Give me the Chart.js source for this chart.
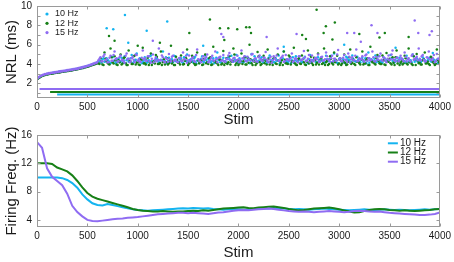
<!DOCTYPE html>
<html><head><meta charset="utf-8">
<script src="https://cdn.jsdelivr.net/npm/chart.js@4"></script>
<style>
html,body{margin:0;padding:0;background:#fff;}
#wrap{position:relative;width:454px;height:262px;overflow:hidden;}
#c1{position:absolute;left:0;top:0;}
#c2{position:absolute;left:0;top:125px;}
</style></head><body>
<div id="wrap"><canvas id="c1" width="454" height="129"></canvas><canvas id="c2" width="454" height="137"></canvas></div>
<script>
const seriesNames = ['10 Hz', '12 Hz', '15 Hz'];
const seriesColors = ['#14b4f0', '#178017', '#8f6cf2'];

// top panel: NRL per stimulus (sampled, two interleaved samplings)
const stims = [
10,30,50,70,90,110,130,150,170,190,210,230,250,270,290,310,330,350,370,390,
410,430,450,470,490,510,530,550,570,590,610,630,650,670,690,710,730,750,770,790,
810,830,850,870,890,910,930,950,970,990,1010,1030,1050,1070,1090,1110,1130,1150,1170,1190,
1210,1230,1250,1270,1290,1310,1330,1350,1370,1390,1410,1430,1450,1470,1490,1510,1530,1550,1570,1590,
1610,1630,1650,1670,1690,1710,1730,1750,1770,1790,1810,1830,1850,1870,1890,1910,1930,1950,1970,1990,
2010,2030,2050,2070,2090,2110,2130,2150,2170,2190,2210,2230,2250,2270,2290,2310,2330,2350,2370,2390,
2410,2430,2450,2470,2490,2510,2530,2550,2570,2590,2610,2630,2650,2670,2690,2710,2730,2750,2770,2790,
2810,2830,2850,2870,2890,2910,2930,2950,2970,2990,3010,3030,3050,3070,3090,3110,3130,3150,3170,3190,
3210,3230,3250,3270,3290,3310,3330,3350,3370,3390,3410,3430,3450,3470,3490,3510,3530,3550,3570,3590,
3610,3630,3650,3670,3690,3710,3730,3750,3770,3790,3810,3830,3850,3870,3890,3910,3930,3950,3970,3990];
const stims2 = [
20,40,60,80,100,120,140,160,180,200,220,240,260,280,300,320,340,360,380,400,
420,440,460,480,500,520,540,560,580,600,620,640,660,680,700,720,740,760,780,800,
820,840,860,880,900,920,940,960,980,1000,1020,1040,1060,1080,1100,1120,1140,1160,1180,1200,
1220,1240,1260,1280,1300,1320,1340,1360,1380,1400,1420,1440,1460,1480,1500,1520,1540,1560,1580,1600,
1620,1640,1660,1680,1700,1720,1740,1760,1780,1800,1820,1840,1860,1880,1900,1920,1940,1960,1980,2000,
2020,2040,2060,2080,2100,2120,2140,2160,2180,2200,2220,2240,2260,2280,2300,2320,2340,2360,2380,2400,
2420,2440,2460,2480,2500,2520,2540,2560,2580,2600,2620,2640,2660,2680,2700,2720,2740,2760,2780,2800,
2820,2840,2860,2880,2900,2920,2940,2960,2980,3000,3020,3040,3060,3080,3100,3120,3140,3160,3180,3200,
3220,3240,3260,3280,3300,3320,3340,3360,3380,3400,3420,3440,3460,3480,3500,3520,3540,3560,3580,3600,
3620,3640,3660,3680,3700,3720,3740,3760,3780,3800,3820,3840,3860,3880,3900,3920,3940,3960,3980,4000];

const nrl10 = [
2.52,2.68,2.8,2.88,2.94,2.98,3.02,3.06,3.09,3.12,3.15,3.19,3.22,3.26,3.29,3.32,3.35,3.39,3.43,3.47,
3.51,3.55,3.6,3.66,3.72,3.78,3.85,3.93,4.0,4.09,
4.2,4.3,4.5,4.25,4.6,4.35,4.1,4.7,4.4,4.2,
4.55,4.3,4.15,4.8,4.4,4.25,4.6,4.1,4.35,5.1,
4.3,4.5,4.2,4.7,4.15,4.4,4.9,4.25,4.35,4.6,
4.2,4.45,5.3,4.3,4.1,4.65,4.35,4.2,4.8,4.4,
4.25,4.6,4.15,4.4,5.0,4.3,4.5,4.2,4.75,4.35,
4.1,4.55,4.3,4.9,4.2,4.45,4.15,4.6,4.3,5.2,
4.4,4.2,4.65,4.3,4.1,4.5,4.85,4.25,4.4,4.15,
4.6,4.3,4.2,4.75,4.4,4.1,5.05,4.35,4.5,4.2,
4.3,4.7,4.15,4.45,4.25,4.9,4.35,4.2,4.6,4.4,
4.1,4.5,5.3,4.3,4.2,4.65,4.4,4.15,4.8,4.3,
4.45,4.2,4.6,4.35,4.1,4.95,4.3,4.5,4.2,4.7,
4.25,4.4,4.15,4.85,4.3,4.55,4.2,5.1,4.4,4.1,
4.6,4.3,4.2,4.75,4.45,4.15,4.9,4.35,4.25,4.5,
4.2,4.65,4.35,4.1,5.2,4.4,4.3,4.55,4.2,4.8,
4.3,4.15,4.6,4.4,4.25,4.95,4.35,4.2,4.7,4.45,
4.1,4.5,4.3,4.85,4.2,4.4,5.0,4.25,4.6,4.35,
4.2,4.7,4.4,4.15,4.55,4.3,5.15,4.25,4.45,4.2];
const nrl10b = [
2.64,2.76,2.86,2.93,2.98,3.02,3.06,3.1,3.13,3.17,3.2,3.24,3.27,3.3,3.34,3.37,3.41,3.45,3.49,3.53,
3.58,3.63,3.68,3.74,3.8,3.87,3.94,4.02,4.1,4.18,
4.35,4.15,4.6,4.3,4.45,4.2,4.75,4.3,4.1,4.5,
4.2,4.65,4.4,4.1,4.55,4.3,4.95,4.2,4.45,4.3,
4.6,4.1,4.35,4.5,4.25,4.8,4.3,4.15,4.55,4.4,
4.15,4.4,4.25,4.7,4.35,4.2,4.5,4.85,4.3,4.2,
4.5,4.2,4.7,4.3,4.15,4.45,4.35,4.6,4.1,4.4,
4.3,4.8,4.2,4.4,4.55,4.25,4.35,4.1,4.65,4.45,
4.2,4.45,4.3,4.15,4.7,4.4,4.25,4.55,4.95,4.3,
4.4,4.15,4.55,4.3,4.6,4.2,4.4,4.8,4.25,4.35,
4.55,4.25,4.4,4.1,4.65,4.3,4.5,4.2,4.35,4.9,
4.25,4.6,4.2,4.45,4.35,4.1,4.7,4.4,4.3,4.55,
4.35,4.2,4.75,4.3,4.5,4.15,4.4,4.6,4.2,4.45,
4.6,4.3,4.2,4.5,4.35,4.85,4.25,4.4,4.15,4.55,
4.3,4.5,4.1,4.65,4.4,4.25,4.55,4.3,4.75,4.2,
4.45,4.25,4.6,4.35,4.15,4.5,4.3,4.9,4.4,4.2,
4.2,4.7,4.35,4.25,4.45,4.6,4.15,4.4,4.3,4.65,
4.5,4.3,4.15,4.55,4.35,4.2,4.8,4.4,4.25,4.5,
4.35,4.55,4.2,4.4,4.65,4.25,4.45,4.3,4.1,4.6];

const nrl12 = [
2.5,2.65,2.78,2.86,2.92,2.96,3.0,3.04,3.07,3.1,3.14,3.17,3.2,3.24,3.27,3.3,3.34,3.37,3.41,3.45,
3.49,3.54,3.59,3.64,3.7,3.76,3.83,3.9,3.98,4.06,
4.1,4.6,3.95,5.2,4.3,4.0,5.6,4.2,4.8,3.95,
4.4,5.0,4.05,4.7,3.9,5.4,4.25,4.0,4.9,4.15,
3.95,4.5,5.7,4.1,4.35,3.9,5.1,4.2,4.05,4.75,
4.0,5.3,4.2,3.95,4.6,4.1,5.9,4.3,3.9,4.45,
4.15,4.9,3.95,4.35,5.5,4.05,4.25,4.7,3.9,5.2,
4.1,4.4,3.95,5.0,4.2,4.6,3.9,5.8,4.3,4.05,
4.5,3.95,5.35,4.15,4.0,4.8,4.25,5.6,3.9,4.4,
4.05,5.1,4.3,3.95,4.65,6.0,4.1,4.35,3.9,5.25,
4.2,4.0,4.85,4.35,5.5,3.95,4.15,4.6,4.05,5.0,
3.9,4.4,5.3,4.1,4.0,4.75,4.25,5.7,3.95,4.5,
4.05,4.9,4.2,3.9,5.4,4.3,4.1,4.65,3.95,5.1,
4.35,4.0,5.6,4.2,3.9,4.8,4.1,5.2,4.4,3.95,
4.55,4.05,5.0,3.9,4.25,5.5,4.15,4.0,4.7,4.3,
3.95,5.3,4.1,4.45,3.9,5.8,4.2,4.05,4.6,4.35,
4.0,4.9,3.95,5.15,4.25,4.1,4.7,3.9,5.4,4.3,
4.15,3.95,4.85,4.05,5.6,4.2,3.9,4.5,5.05,4.1,
3.95,4.4,5.2,4.1,4.0,4.75,4.25,3.9,5.5,4.2];
const nrl12b = [
2.6,2.72,2.82,2.88,2.93,2.97,3.01,3.04,3.08,3.11,3.14,3.18,3.21,3.25,3.28,3.31,3.35,3.39,3.43,3.47,
3.51,3.56,3.61,3.67,3.73,3.8,3.87,3.94,4.02,4.1,
4.0,4.3,3.9,4.55,4.15,3.95,4.7,4.05,4.4,3.9,
4.2,3.95,4.6,4.1,3.9,4.35,4.0,4.8,3.95,4.25,
3.9,4.45,4.05,3.95,4.65,4.15,3.9,4.3,4.95,4.0,
4.1,3.9,4.5,4.2,3.95,4.4,4.05,3.9,4.75,4.15,
3.95,4.35,4.0,4.6,3.9,4.2,4.85,4.05,3.95,4.4,
4.25,3.9,4.55,4.1,4.0,4.7,3.95,4.3,4.15,3.9,
4.45,4.05,3.9,4.6,4.2,3.95,4.35,5.0,4.1,3.9,
4.3,4.0,4.7,3.95,4.15,4.5,3.9,4.25,4.05,4.8,
3.9,4.4,4.1,3.95,4.55,4.2,3.9,4.65,4.0,4.35,
4.15,3.9,4.45,4.05,4.9,3.95,4.3,4.1,3.9,4.6,
4.0,4.5,3.95,4.25,4.05,4.75,3.9,4.4,4.15,3.95,
4.6,4.1,3.9,4.35,4.0,4.55,3.95,4.2,4.85,4.05,
3.9,4.3,4.15,3.95,4.7,4.0,4.45,3.9,4.25,4.1,
4.5,3.95,4.05,4.6,3.9,4.35,4.2,3.95,4.95,4.1,
4.0,4.4,3.9,4.25,4.55,3.95,4.15,4.7,4.05,3.9,
4.3,4.1,4.6,3.95,4.2,4.0,4.8,3.9,4.35,4.15,
3.95,4.5,4.05,4.25,3.9,4.65,4.1,4.0,4.4,3.95];

const nrl15 = [
2.55,2.72,2.83,2.9,2.95,3.0,3.03,3.07,3.1,3.13,3.16,3.2,3.23,3.27,3.3,3.33,3.36,3.4,3.44,3.48,
3.52,3.57,3.62,3.68,3.74,3.8,3.87,3.95,4.03,4.12,
4.4,4.7,4.3,5.0,4.5,4.2,4.85,4.35,5.3,4.6,
4.3,4.9,4.45,4.15,5.1,4.55,4.3,4.75,4.2,4.95,
4.5,4.25,5.4,4.6,4.35,4.8,4.15,5.0,4.45,4.3,
5.6,4.4,4.7,4.2,4.55,5.05,4.3,4.85,4.45,4.25,
4.6,4.35,5.2,4.5,4.15,4.9,4.4,4.7,4.25,5.5,
4.45,4.2,4.8,4.55,5.0,4.3,4.65,4.4,5.3,4.2,
4.7,4.35,4.95,4.25,4.5,5.15,4.4,4.6,4.3,4.85,
4.2,5.4,4.55,4.35,4.75,4.45,5.0,4.3,4.6,4.25,
4.9,4.4,4.65,5.25,4.3,4.5,4.15,4.8,4.45,5.6,
4.35,4.7,4.25,4.95,4.5,4.4,5.1,4.3,4.6,4.2,
4.8,4.45,5.35,4.3,4.55,4.2,4.9,4.4,4.65,5.0,
4.3,4.75,4.4,5.2,4.5,4.25,4.85,4.55,4.35,5.45,
4.6,4.3,4.95,4.45,5.1,4.2,4.7,4.4,5.5,4.35,
4.5,4.8,4.25,5.0,4.6,4.4,5.3,4.3,4.75,4.45,
5.1,4.35,4.6,4.2,4.9,4.5,5.4,4.4,4.65,4.3,
4.85,4.45,5.2,4.3,4.6,4.25,5.0,4.5,4.75,5.6,
4.4,4.95,4.3,4.7,5.3,4.45,4.6,4.2,5.05,4.5];
const nrl15b = [
2.68,2.8,2.9,2.97,3.02,3.07,3.11,3.14,3.18,3.21,3.25,3.28,3.31,3.35,3.38,3.42,3.45,3.49,3.53,3.57,
3.62,3.67,3.72,3.78,3.84,3.91,3.98,4.06,4.14,4.22,
4.55,4.3,4.8,4.4,4.2,4.65,4.35,4.95,4.5,4.25,
4.7,4.4,4.3,4.85,4.5,4.2,4.6,4.45,5.0,4.35,
4.25,4.65,4.5,4.35,4.8,4.3,4.55,4.2,4.7,4.45,
4.4,4.9,4.3,4.6,4.25,4.5,4.75,4.35,4.45,4.2,
4.65,4.3,4.5,4.85,4.4,4.25,4.6,4.35,4.95,4.5,
4.3,4.55,4.4,4.7,4.2,4.45,4.85,4.35,4.5,4.6,
4.75,4.4,4.3,4.55,4.9,4.45,4.25,4.65,4.4,4.5,
4.35,4.6,4.8,4.3,4.5,4.4,5.05,4.55,4.3,4.7,
4.5,4.35,4.65,4.45,4.2,4.75,4.4,4.6,4.9,4.35,
4.6,4.85,4.3,4.5,4.4,4.65,4.25,4.55,4.45,4.8,
4.4,4.55,4.7,4.35,4.95,4.45,4.3,4.6,4.5,4.25,
4.7,4.35,4.5,4.8,4.4,4.6,4.3,4.55,5.0,4.45,
4.35,4.65,4.45,4.25,4.75,4.5,4.4,4.85,4.3,4.6,
4.55,4.4,4.9,4.35,4.6,4.45,4.7,4.3,4.5,4.8,
4.45,4.7,4.35,4.55,4.4,5.0,4.5,4.3,4.65,4.45,
4.6,4.3,4.75,4.5,4.35,4.85,4.45,4.6,4.4,4.55,
4.8,4.45,4.3,4.65,4.5,4.4,4.95,4.35,4.55,4.7];

// sparse high outliers
const out10Stim = [692, 757, 873, 906, 1089, 1293, 1650, 2450, 3050, 3560];
const out10Val  = [7.7, 7.6, 9.07, 6.2, 7.45, 8.4, 5.9, 5.8, 6.0, 5.7];
const out12Stim = [715, 770, 1000, 1220, 1512, 1717, 1816, 1860, 1899, 1988, 2077, 2110, 2125, 2633, 2670, 2776, 2846, 2868, 2933, 2957, 3200, 3400, 3453, 3690];
const out12Val  = [6.9, 6.4, 5.9, 6.2, 7.2, 8.6, 7.7, 6.5, 7.7, 7.6, 7.8, 7.8, 7.2, 7.0, 6.6, 9.6, 7.2, 7.9, 6.55, 8.3, 7.1, 6.75, 7.2, 6.8];
const out15Stim = [1150, 1830, 1850, 2280, 2577, 3080, 3150, 3215, 3321, 3380, 3750, 3785, 3897, 3920];
const out15Val  = [6.4, 7.1, 6.8, 6.8, 7.1, 7.2, 7.2, 6.3, 8.0, 7.2, 8.5, 7.2, 7.0, 7.4];

// failure rows
const failStart = [200, 130, 25];
const failEnd = [4000, 4000, 4000];
const failLevel = [0.86, 1.13, 1.42];

// bottom panel: firing frequency
const lineStims = [
0,50,100,150,200,250,300,350,400,450,500,550,600,650,700,750,800,850,900,950,
1000,1050,1100,1150,1200,1250,1300,1350,1400,1450,1500,1550,1600,1650,1700,1750,1800,1850,1900,1950,
2000,2050,2100,2150,2200,2250,2300,2350,2400,2450,2500,2550,2600,2650,2700,2750,2800,2850,2900,2950,
3000,3050,3100,3150,3200,3250,3300,3350,3400,3450,3500,3550,3600,3650,3700,3750,3800,3850,3900,3950,4000];
const freq10 = [
10,10,10,10,10,9.9,9.65,9.2,8.55,7.6,
6.9,6.35,6.1,6.05,6.25,6.1,5.95,5.8,5.65,5.5,
5.4,5.35,5.3,5.35,5.4,5.45,5.5,5.55,5.6,5.65,
5.6,5.7,5.65,5.6,5.65,5.55,5.5,5.45,5.5,5.55,
5.5,5.45,5.5,5.55,5.6,5.65,5.6,5.7,5.65,5.6,
5.55,5.5,5.55,5.5,5.45,5.5,5.55,5.6,5.55,5.5,
5.45,5.4,5.35,5.4,5.45,5.5,5.45,5.4,5.45,5.5,
5.45,5.4,5.45,5.4,5.35,5.4,5.45,5.5,5.45,5.5,
5.55];
const freq12 = [
12,12,12,11.9,11.4,11.15,10.85,10.3,9.5,8.6,
7.8,7.3,7.0,6.8,6.6,6.4,6.2,6.0,5.8,5.55,
5.4,5.3,5.25,5.2,5.2,5.25,5.2,5.15,5.2,5.2,
5.25,5.3,5.25,5.35,5.3,5.4,5.5,5.6,5.65,5.7,
5.75,5.8,5.7,5.65,5.75,5.8,5.85,5.9,5.8,5.7,
5.55,5.45,5.35,5.4,5.5,5.6,5.65,5.7,5.75,5.65,
5.5,5.35,5.2,5.05,5.1,5.25,5.4,5.5,5.55,5.5,
5.4,5.35,5.3,5.35,5.3,5.25,5.3,5.35,5.4,5.5,
5.55];
const freq15 = [
15,14.2,11.3,10.1,9.5,8.9,7.7,6.0,5.1,4.5,
4.0,3.85,3.8,3.9,4.0,4.1,4.15,4.2,4.3,4.35,
4.4,4.5,4.6,4.7,4.8,4.85,4.9,4.95,5.0,5.0,
4.95,5.0,4.95,4.9,4.85,4.95,5.05,5.1,5.2,5.3,
5.35,5.4,5.35,5.45,5.5,5.55,5.6,5.55,5.45,5.35,
5.25,5.2,5.15,5.2,5.15,5.1,5.15,5.2,5.25,5.2,
5.15,5.1,5.15,5.25,5.3,5.25,5.2,5.15,5.2,5.1,
5.0,4.95,4.9,4.85,4.8,4.75,4.7,4.7,4.75,4.85,
5.05];

const xTicks = [0,500,1000,1500,2000,2500,3000,3500,4000];
const nrlLabelTicks = [2,4,6,8,10];
const nrlMinorTicks = [1,2,3,4,5,6,7,8,9,10];
const freqTicks = [4,8,12,16];

// per-panel axis/legend specs (kept outside Chart.js option resolution)
const panelSpec = {
  top: {yMarks: nrlMinorTicks, yLabels: nrlLabelTicks,
        legend: {kind: 'dot', side: 'left', offset: 10, top: 8, gap: 9.3, font: '9px'}},
  bottom: {yMarks: freqTicks, yLabels: freqTicks,
        legend: {kind: 'line', side: 'right', offset: 52, top: 8.3, gap: 9.2, font: '10px'}}
};

const FONT = '"Liberation Sans", Arial, Helvetica, sans-serif';
Chart.defaults.font.family = FONT;
Chart.defaults.color = '#1a1a1a';
const pts = (xs, ys) => xs.map((x, i) => ({x: x, y: ys[i]}));

const framePlugin = {
  id: 'frame',
  afterDraw(chart) {
    const spec = panelSpec[chart.canvas.id === 'c1' ? 'top' : 'bottom'];
    const ctx = chart.ctx, a = chart.chartArea;
    const xs = chart.scales.x, ys = chart.scales.y;
    const len = 3;
    ctx.save();
    ctx.strokeStyle = '#9a9a9a'; ctx.lineWidth = 1;
    const L = Math.round(a.left) + 0.5, R = Math.round(a.right) - 0.5;
    const T = Math.round(a.top) + 0.5, B = Math.round(a.bottom) - 0.5;
    ctx.strokeRect(L, T, R - L, B - T);
    ctx.beginPath();
    for (let i = 0; i < xTicks.length; i++) {
      const p = Math.round(xs.getPixelForValue(xTicks[i])) + 0.5;
      ctx.moveTo(p, B); ctx.lineTo(p, B - len);
      ctx.moveTo(p, T); ctx.lineTo(p, T + len);
    }
    for (let i = 0; i < spec.yMarks.length; i++) {
      const p = Math.round(ys.getPixelForValue(spec.yMarks[i])) + 0.5;
      ctx.moveTo(L, p); ctx.lineTo(L + len, p);
      ctx.moveTo(R, p); ctx.lineTo(R - len, p);
    }
    ctx.stroke();
    // y tick labels
    ctx.fillStyle = '#1a1a1a';
    ctx.font = '10px ' + FONT;
    ctx.textAlign = 'right';
    ctx.textBaseline = 'middle';
    for (let i = 0; i < spec.yLabels.length; i++) {
      const v = spec.yLabels[i];
      ctx.fillText(String(v), a.left - 5, ys.getPixelForValue(v));
    }
    // legend
    const lg = spec.legend;
    const items = chart.data.datasets.filter(d => d.inLegend);
    ctx.font = lg.font + ' ' + FONT;
    ctx.textAlign = 'left';
    items.forEach((d, i) => {
      const y = a.top + lg.top + i * lg.gap;
      const x0 = lg.side === 'left' ? a.left + lg.offset : a.right - lg.offset;
      ctx.fillStyle = d.legendColor; ctx.strokeStyle = d.legendColor;
      if (lg.kind === 'dot') {
        ctx.beginPath(); ctx.arc(x0, y, 1.6, 0, Math.PI * 2); ctx.fill();
        ctx.fillStyle = '#1a1a1a'; ctx.fillText(d.label, x0 + 8, y);
      } else {
        ctx.lineWidth = 2;
        ctx.beginPath(); ctx.moveTo(x0, y); ctx.lineTo(x0 + 10, y); ctx.stroke();
        ctx.fillStyle = '#1a1a1a'; ctx.fillText(d.label, x0 + 12, y);
      }
    });
    ctx.restore();
  }
};

function xScale(h) {
  return {
    type: 'linear', min: 0, max: 4000,
    grid: {display: false, drawTicks: false}, border: {display: false},
    afterBuildTicks: s => { s.ticks = xTicks.map(v => ({value: v})); },
    afterFit: s => { s.height = h; },
    ticks: {font: {size: 10}, padding: 3, maxRotation: 0, autoSkip: false, color: '#1a1a1a', callback: v => String(v)},
    title: {display: true, text: 'Stim', font: {size: 15}, padding: {top: 0, bottom: 0}, color: '#1a1a1a'}
  };
}
function yScale(min, max, titleText) {
  return {
    type: 'linear', min: min, max: max,
    grid: {display: false, drawTicks: false}, border: {display: false},
    afterFit: s => { s.width = 37; },
    ticks: {display: false},
    title: {display: true, text: titleText, font: {size: 15}, padding: {top: 3, bottom: 0}, color: '#1a1a1a'}
  };
}

// ---------- top chart ----------
const topSets = [];
const cloudsA = [nrl10, nrl12, nrl15];
const cloudsB = [nrl10b, nrl12b, nrl15b];
const outS = [out10Stim, out12Stim, out15Stim];
const outV = [out10Val, out12Val, out15Val];
for (let i = 0; i < 3; i++) {
  topSets.push({
    label: seriesNames[i], inLegend: true, legendColor: seriesColors[i],
    data: pts(stims, cloudsA[i]).concat(pts(stims2, cloudsB[i]), pts(outS[i], outV[i])),
    backgroundColor: seriesColors[i], borderWidth: 0,
    pointRadius: 1.25, order: 10 - i
  });
  topSets.push({
    label: seriesNames[i] + ' fail',
    data: [{x: failStart[i], y: failLevel[i]}, {x: failEnd[i], y: failLevel[i]}],
    borderColor: seriesColors[i], borderWidth: 2, pointRadius: 0, showLine: true, order: 20
  });
}

new Chart(document.getElementById('c1'), {
  type: 'scatter',
  data: {datasets: topSets},
  options: {
    responsive: false, animation: false,
    layout: {padding: {left: 0, right: 14, top: 6, bottom: 0}},
    plugins: {legend: {display: false}, tooltip: {enabled: false}},
    scales: {
      x: xScale(31),
      y: yScale(0.5, 10, 'NRL (ms)')
    }
  },
  plugins: [framePlugin]
});

// ---------- bottom chart ----------
const freqs = [freq10, freq12, freq15];
const botSets = freqs.map((f, i) => ({
  label: seriesNames[i], inLegend: true, legendColor: seriesColors[i],
  data: pts(lineStims, f), borderColor: seriesColors[i], borderWidth: 2,
  pointRadius: 0, tension: 0, order: 3 - i
}));

new Chart(document.getElementById('c2'), {
  type: 'line',
  data: {datasets: botSets},
  options: {
    responsive: false, animation: false,
    layout: {padding: {left: 0, right: 14, top: 10, bottom: 0}},
    plugins: {legend: {display: false}, tooltip: {enabled: false}},
    scales: {
      x: xScale(35),
      y: yScale(3, 16, 'Firing Freq. (Hz)')
    }
  },
  plugins: [framePlugin]
});
</script>
</body></html>
